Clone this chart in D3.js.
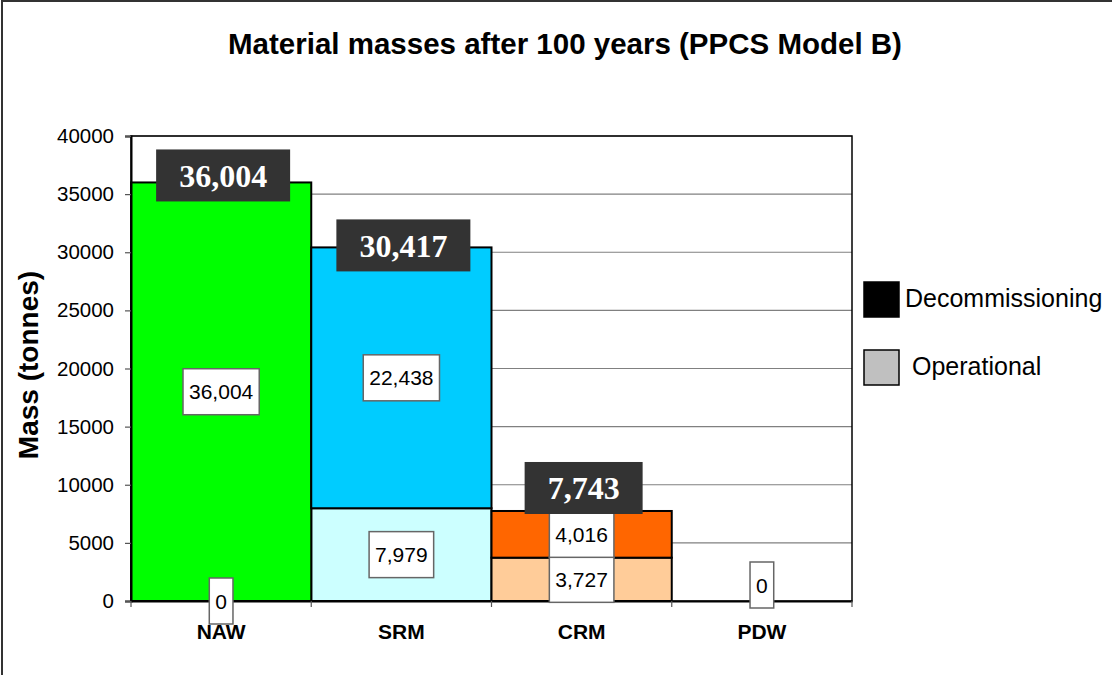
<!DOCTYPE html>
<html>
<head>
<meta charset="utf-8">
<script src="https://cdn.jsdelivr.net/npm/d3@7"></script>
<style>
  body { margin: 0; background: #fff; }
</style>
</head>
<body>
<div id="chart"></div>
<script>
// Data
const categories = ["NAW", "SRM", "CRM", "PDW"];
const operational = [0, 7979, 3727, 0];
const decommissioning = [36004, 22438, 4016, 0];
const yTicks = [0, 5000, 10000, 15000, 20000, 25000, 30000, 35000, 40000];
const legendLabels = ["Decommissioning", "Operational"];

// Styles
const opColors = ["#00ff00", "#ccffff", "#ffcc99", "#ffffff"];
const decomColors = ["#00ff00", "#00ccff", "#ff6600", "#ffffff"];
const legendColors = ["#000000", "#c0c0c0"];
// hand nudges of the annotation boxes, px
const totalNudge = [-7, -2, -23, 0];
const zeroNudge = [0, 0, 0, -16];

const sans = "Arial, 'Liberation Sans', sans-serif";
const serif = "'Times New Roman', 'Liberation Serif', serif";

const svgWidth = 1112;
const svgHeight = 675;

const svg = d3.select("#chart")
  .append("svg")
  .attr("width", svgWidth)
  .attr("height", svgHeight)
  .style("font-family", sans);

// outer frame
svg.append("rect")
  .attr("x", 2).attr("y", 1)
  .attr("width", 1300).attr("height", 800)
  .attr("fill", "none")
  .attr("stroke", "#333")
  .attr("stroke-width", 2);

// title
svg.append("text")
  .attr("x", 565).attr("y", 54)
  .attr("text-anchor", "middle")
  .attr("font-size", 29.5)
  .attr("font-weight", "bold")
  .text("Material masses after 100 years (PPCS Model B)");

const x = d3.scaleBand()
  .domain(categories)
  .range([131, 852])
  .padding(0);

const y = d3.scaleLinear()
  .domain([0, 40000])
  .range([601, 136]);

// gridlines
svg.append("g")
  .selectAll("line")
  .data(yTicks.filter(d => d > 0))
  .join("line")
  .attr("x1", 131).attr("x2", 852)
  .attr("y1", d => y(d)).attr("y2", d => y(d))
  .attr("stroke", "#808080")
  .attr("stroke-width", 1.2);

// plot border
svg.append("rect")
  .attr("x", 131).attr("y", y(40000))
  .attr("width", 852 - 131).attr("height", y(0) - y(40000))
  .attr("fill", "none")
  .attr("stroke", "#000")
  .attr("stroke-width", 1.5);

const rows = categories.map((c, i) => ({
  cat: c,
  op: operational[i],
  dec: decommissioning[i],
  total: operational[i] + decommissioning[i],
  i: i
}));

// bars: operational (bottom) then decommissioning (top)
const bars = svg.append("g");
bars.selectAll("rect.op")
  .data(rows.filter(d => d.op > 0))
  .join("rect")
  .attr("class", "op")
  .attr("x", d => x(d.cat))
  .attr("width", x.bandwidth())
  .attr("y", d => y(d.op))
  .attr("height", d => y(0) - y(d.op))
  .attr("fill", d => opColors[d.i])
  .attr("stroke", "#000")
  .attr("stroke-width", 2);

bars.selectAll("rect.dec")
  .data(rows.filter(d => d.dec > 0))
  .join("rect")
  .attr("class", "dec")
  .attr("x", d => x(d.cat))
  .attr("width", x.bandwidth())
  .attr("y", d => y(d.total))
  .attr("height", d => y(d.op) - y(d.total))
  .attr("fill", d => decomColors[d.i])
  .attr("stroke", "#000")
  .attr("stroke-width", 2);

// y axis
const leftAxis = d3.axisLeft(y)
  .tickValues(yTicks)
  .tickFormat(d3.format("d"))
  .tickSize(6)
  .tickPadding(11);

const yAxis = svg.append("g")
  .attr("transform", "translate(131,0)")
  .call(leftAxis);
yAxis.select(".domain").attr("stroke", "#000").attr("stroke-width", 2);
yAxis.selectAll(".tick line").attr("stroke", "#555").attr("stroke-width", 1.2);
yAxis.selectAll(".tick text")
  .attr("font-size", 20.5)
  .style("font-family", sans)
  .attr("fill", "#000");

// x axis
const bottomAxis = d3.axisBottom(x).tickSize(0).tickPadding(0);
const xAxis = svg.append("g")
  .attr("transform", `translate(0,${y(0)})`)
  .call(bottomAxis);
xAxis.select(".domain").attr("stroke", "#000").attr("stroke-width", 2);
xAxis.selectAll(".tick text")
  .attr("y", 38)
  .attr("dy", 0)
  .attr("font-size", 21)
  .attr("font-weight", "bold")
  .style("font-family", sans)
  .attr("fill", "#000");

// band boundary ticks
svg.append("g")
  .selectAll("line")
  .data(categories.concat(["end"]))
  .join("line")
  .attr("x1", d => d === "end" ? 852 : x(d))
  .attr("x2", d => d === "end" ? 852 : x(d))
  .attr("y1", y(0)).attr("y2", y(0) + 6)
  .attr("stroke", "#555")
  .attr("stroke-width", 1.2);

// y axis title
svg.append("text")
  .attr("transform", "translate(38,365) rotate(-90)")
  .attr("text-anchor", "middle")
  .attr("font-size", 28)
  .attr("font-weight", "bold")
  .text("Mass (tonnes)");

// segment value labels
const fmt = d3.format(",");
const labels = [];
rows.forEach(d => {
  if (d.op === 0 && d.dec === 0) {
    labels.push({ cat: d.cat, v: 0, cy: y(0) + zeroNudge[d.i] });
    return;
  }
  labels.push({ cat: d.cat, v: d.op, cy: y(d.op / 2) });
  if (d.dec > 0) labels.push({ cat: d.cat, v: d.dec, cy: y(d.op + d.dec / 2) });
});

const lab = svg.append("g")
  .selectAll("g")
  .data(labels)
  .join("g")
  .attr("transform", d => `translate(${x(d.cat) + x.bandwidth() / 2},${d.cy})`);

lab.append("text")
  .attr("text-anchor", "middle")
  .attr("dy", "0.36em")
  .attr("font-size", 21)
  .text(d => fmt(d.v))
  .each(function(d) { d.w = this.getComputedTextLength(); });

lab.insert("rect", "text")
  .attr("x", d => -d.w / 2 - 6)
  .attr("y", -23)
  .attr("width", d => d.w + 12)
  .attr("height", 46)
  .attr("fill", "#fff")
  .attr("stroke", "#666")
  .attr("stroke-width", 1.5);

// total boxes
const tot = svg.append("g")
  .selectAll("g")
  .data(rows.filter(d => d.total > 0))
  .join("g")
  .attr("transform", d => `translate(${x(d.cat) + x.bandwidth() / 2 + 2},${y(d.total) + totalNudge[d.i]})`);

tot.append("text")
  .attr("text-anchor", "middle")
  .attr("dy", "0.35em")
  .attr("font-size", 32)
  .attr("font-weight", "bold")
  .style("font-family", serif)
  .attr("fill", "#fff")
  .text(d => fmt(d.total))
  .each(function(d) { d.w = this.getComputedTextLength(); });

tot.insert("rect", "text")
  .attr("x", d => -d.w / 2 - 23)
  .attr("y", -26)
  .attr("width", d => d.w + 46)
  .attr("height", 52)
  .attr("fill", "#333");

// legend
const legend = svg.append("g")
  .selectAll("g")
  .data(legendLabels)
  .join("g")
  .attr("transform", (d, i) => `translate(864,${282 + i * 68})`);

legend.append("rect")
  .attr("width", 35).attr("height", 35)
  .attr("fill", (d, i) => legendColors[i])
  .attr("stroke", "#000")
  .attr("stroke-width", 1.5);

legend.append("text")
  .attr("x", (d, i) => i === 0 ? 41 : 48)
  .attr("y", 25)
  .attr("font-size", 25)
  .text(d => d);
</script>
</body>
</html>
